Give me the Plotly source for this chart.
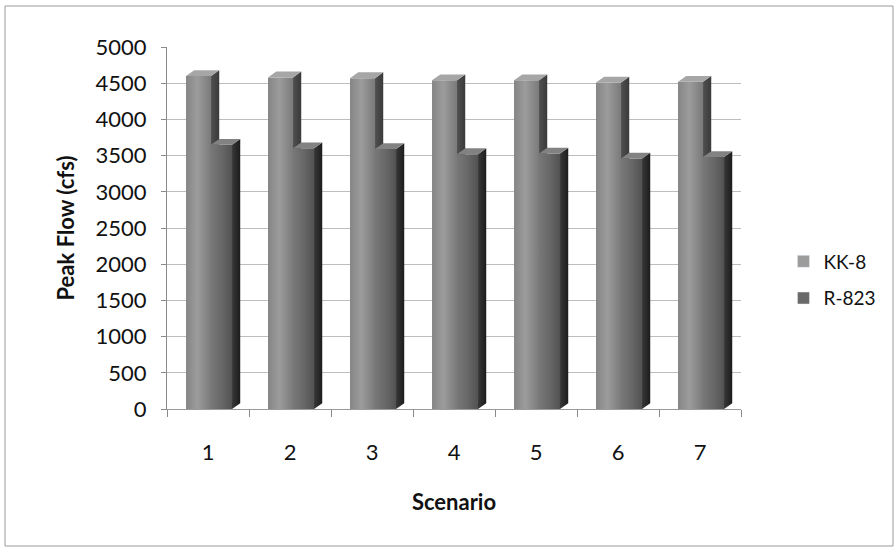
import plotly.graph_objects as go

# Peak flow results per scenario at two locations
scenarios = [1, 2, 3, 4, 5, 6, 7]
kk8 = [4600, 4580, 4570, 4540, 4540, 4510, 4520]
r823 = [3650, 3600, 3590, 3520, 3530, 3460, 3480]
y_ticks = [0, 500, 1000, 1500, 2000, 2500, 3000, 3500, 4000, 4500, 5000]

# column geometry (x in category units, depth offsets for the pseudo-3D look)
DX = 0.10
DY = 80
series = [
    dict(name="KK-8", vals=kk8, left=-0.268, right=0.037,
         front=[[0, "#858585"], [0.45, "#9c9c9c"], [1, "#7a7a7a"]],
         side=[[0, "#505050"], [1, "#3a3a3a"]],
         top="#a6a6a6", legend="#9c9c9c"),
    dict(name="R-823", vals=r823, left=0.037, right=0.293,
         front=[[0, "#787878"], [0.5, "#686868"], [1, "#525252"]],
         side=[[0, "#383838"], [1, "#1c1c1c"]],
         top="#828282", legend="#6a6a6a"),
]

fig = go.Figure()


def face(xs, ys, colorscale=None, color=None):
    kw = dict(x=xs, y=ys, mode="lines", fill="toself",
              line=dict(width=0, color="rgba(0,0,0,0)"),
              showlegend=False, hoverinfo="skip")
    if colorscale is not None:
        kw["fillgradient"] = dict(type="horizontal", colorscale=colorscale)
    else:
        kw["fillcolor"] = color
    return go.Scatter(**kw)


for s in series:
    for c, v in zip(scenarios, s["vals"]):
        xl, xr = c + s["left"], c + s["right"]
        # front face
        fig.add_trace(face([xl, xr, xr, xl, xl], [0, 0, v, v, 0],
                           colorscale=s["front"]))
        # right side face
        fig.add_trace(face([xr, xr + DX, xr + DX, xr, xr],
                           [0, DY, v + DY, v, 0], colorscale=s["side"]))
        # top face
        fig.add_trace(face([xl, xl + DX, xr + DX, xr, xl],
                           [v, v + DY, v + DY, v, v], color=s["top"]))

# legend entries
for i, s in enumerate(series):
    fig.add_trace(go.Bar(
        x=[None], y=[None], name=s["name"],
        marker=dict(color=s["legend"]), legendgroup=str(i),
    ))

font_family = "Lato, 'Open Sans', sans-serif"

fig.update_layout(
    width=895, height=548,
    margin=dict(l=167, r=154, t=47, b=139, autoexpand=False),
    paper_bgcolor="white", plot_bgcolor="white",
    font=dict(family=font_family, color="#111111"),
    showlegend=True,
    legend=dict(
        x=1.074, y=0.46, xanchor="left", yanchor="top",
        font=dict(size=19, color="#111111"),
        traceorder="grouped", tracegroupgap=9,
        bgcolor="rgba(0,0,0,0)",
    ),
    xaxis=dict(
        range=[0.5, 7.5], tickvals=scenarios, ticktext=[str(v) for v in scenarios],
        ticks="", showgrid=False, zeroline=False,
        showline=True, linecolor="#9a9a9a", linewidth=1,
        tickfont=dict(size=22, color="#111111"),
        ticklabelstandoff=24,
        minor=dict(tickvals=[0.5 + k for k in range(8)], ticks="outside",
                   ticklen=7, tickcolor="#8a8a8a", showgrid=False),
        title=dict(text="<b>Scenario</b>", font=dict(size=22, color="#111111"),
                   standoff=30),
    ),
    yaxis=dict(
        range=[0, 5000], tickvals=y_ticks,
        ticks="outside", ticklen=5, tickcolor="#8a8a8a",
        showgrid=True, gridcolor="#bdbdbd", gridwidth=1,
        zeroline=False, showline=True, linecolor="#8a8a8a", linewidth=1,
        tickfont=dict(size=22, color="#111111"),
        ticklabelstandoff=10,
        title=dict(text="<b>Peak Flow (cfs)</b>", font=dict(size=22, color="#111111"),
                   standoff=14),
    ),
    shapes=[
        # chart frame
        dict(type="rect", xref="paper", yref="paper",
             x0=(5 - 167) / 574, x1=(893 - 167) / 574,
             y0=(409 - 546) / 362, y1=(409 - 6) / 362,
             line=dict(color="#9a9a9a", width=1), layer="below"),
    ],
)

fig.write_html("out.html")
